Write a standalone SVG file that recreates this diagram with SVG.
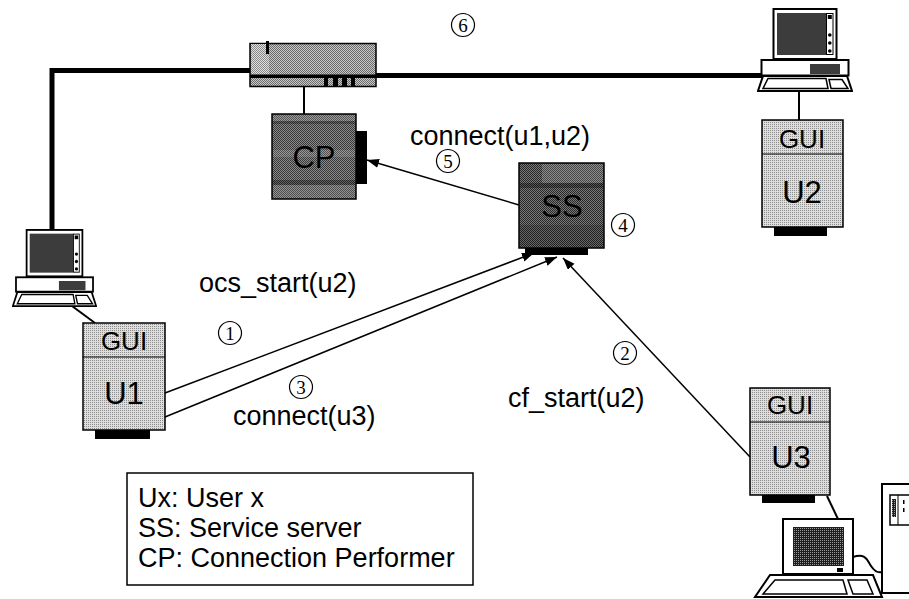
<svg xmlns="http://www.w3.org/2000/svg" width="909" height="599" viewBox="0 0 909 599">
  <style>
    .lbl{font-family:"Liberation Sans",Arial,sans-serif;font-size:27px;fill:#000}
    .big{font-family:"Liberation Sans",Arial,sans-serif;font-size:31px;text-anchor:middle;fill:#000}
    .gui{font-family:"Liberation Sans",Arial,sans-serif;font-size:26px;text-anchor:middle;fill:#000}
    .num circle{fill:none;stroke:#000;stroke-width:1.2}
    .num text{font-family:"Liberation Serif","Times New Roman",serif;font-size:19px;text-anchor:middle;fill:#000}
    .arrow{stroke:#000;stroke-width:1.5;fill:none;marker-end:url(#ah)}
    .net{stroke:#000;stroke-width:5;fill:none}
    .link{stroke:#000;stroke-width:2;fill:none}
    .pcline{stroke:#000;fill:#fff}
  </style>
  <defs>
    <marker id="ah" markerUnits="userSpaceOnUse" markerWidth="13" markerHeight="10" refX="12" refY="4.5" orient="auto">
      <path d="M0,0 L12,4.5 L0,9 Z" fill="#000"/>
    </marker>
    <!-- halftone fills -->
    <pattern id="pLight" width="2" height="2" patternUnits="userSpaceOnUse">
      <rect width="2" height="2" fill="#dedede"/><rect width="1" height="1" fill="#8c8c8c"/>
    </pattern>
    <pattern id="pHub" width="2" height="2" patternUnits="userSpaceOnUse">
      <rect width="2" height="2" fill="#c8c8c8"/><rect width="1" height="1" fill="#6a6a6a"/><rect x="1" y="1" width="1" height="1" fill="#6a6a6a"/>
    </pattern>
    <pattern id="pHubL" width="2" height="2" patternUnits="userSpaceOnUse">
      <rect width="2" height="2" fill="#e0e0e0"/><rect width="1" height="1" fill="#888"/><rect x="1" y="1" width="1" height="1" fill="#888"/>
    </pattern>
    <pattern id="pCP" width="2" height="2" patternUnits="userSpaceOnUse">
      <rect width="2" height="2" fill="#8a8a8a"/><rect width="1" height="1" fill="#383838"/><rect x="1" y="1" width="1" height="1" fill="#383838"/>
    </pattern>
    <pattern id="pSS" width="2" height="2" patternUnits="userSpaceOnUse">
      <rect width="2" height="2" fill="#7a7a7a"/><rect width="1" height="1" fill="#262626"/><rect x="1" y="1" width="1" height="1" fill="#262626"/>
    </pattern>
    <pattern id="pScr" width="2" height="2" patternUnits="userSpaceOnUse">
      <rect width="2" height="2" fill="#1e1e1e"/><rect width="1" height="1" fill="#9a9a9a"/>
    </pattern>
    <!-- desktop computer: monitor, system unit and keyboard -->
    <symbol id="desktop" viewBox="0 0 96 84" preserveAspectRatio="none">
      <rect class="pcline" x="16.5" y="1" width="63" height="50" stroke-width="2"/>
      <rect x="20" y="5" width="49" height="42" fill="#3c3c3c"/>
      <rect x="69.5" y="5.5" width="6.5" height="41" fill="#fff" stroke="#000" stroke-width="1"/>
      <rect x="70.8" y="7" width="4" height="4" fill="#000"/>
      <circle cx="72.8" cy="27" r="1.8" fill="#000"/>
      <circle cx="72.8" cy="35" r="1.8" fill="#000"/>
      <circle cx="72.8" cy="43" r="1.8" fill="#000"/>
      <rect class="pcline" x="4.5" y="52" width="87" height="15.5" stroke-width="2"/>
      <rect x="53" y="56" width="30" height="10" fill="#3c3c3c"/>
      <polygon class="pcline" points="6,68 90,68 95,83 1,83" stroke-width="2"/>
      <polygon class="pcline" points="11,70.5 69,70.5 71,80.5 6,80.5" stroke-width="1.5"/>
      <polygon class="pcline" points="72,71.5 85,71.5 91,80.5 74,80.5" stroke-width="1.5"/>
    </symbol>
  </defs>

  <rect width="909" height="599" fill="#fff"/>

  <!-- network cabling and links between devices -->
  <g id="connectors">
    <polyline class="net" points="52,231 52,70.5 250,70.5"/>
    <line class="net" x1="376" y1="75.5" x2="762" y2="75.5"/>
    <line class="link" x1="304" y1="87" x2="304" y2="114"/>
    <line class="link" x1="799" y1="91" x2="799" y2="120"/>
    <line class="link" x1="72" y1="306" x2="95" y2="323"/>
    <line class="link" x1="827" y1="496" x2="838" y2="519"/>
    <path class="link" d="M853,557 C866,553 867,560 871,566 C875,572 878,573 882,572"/>
    <line class="arrow" x1="519" y1="205" x2="367" y2="160"/>
    <line class="arrow" x1="165" y1="393" x2="534" y2="253"/>
    <line class="arrow" x1="165" y1="417" x2="557" y2="257"/>
    <line class="arrow" x1="750" y1="457" x2="563" y2="258"/>
  </g>

  <!-- hub -->
  <g id="hub">
    <rect x="250" y="43.5" width="126" height="43" fill="url(#pHub)" stroke="#000" stroke-width="1.5"/>
    <rect x="251" y="44" width="18" height="31" fill="url(#pHubL)"/>
    <rect x="250" y="74.5" width="126" height="3.5" fill="#000"/>
    <rect x="266" y="41" width="3" height="13" fill="#000"/>
    <rect x="324" y="78" width="4" height="8" fill="#000"/>
    <rect x="333" y="78" width="5" height="8" fill="#000"/>
    <rect x="342" y="78" width="5" height="8" fill="#000"/>
    <rect x="351" y="78" width="4" height="8" fill="#000"/>
  </g>

  <!-- connection performer -->
  <g id="cp">
    <rect x="272" y="114" width="84" height="85" fill="url(#pCP)" stroke="#000" stroke-width="1.5"/>
    <rect x="273" y="115" width="82" height="6" fill="#fff" opacity="0.15"/>
    <rect x="273" y="121" width="82" height="3" fill="#000" opacity="0.25"/>
    <rect x="273" y="150" width="82" height="7" fill="#fff" opacity="0.12"/>
    <rect x="273" y="180" width="82" height="5" fill="#000" opacity="0.3"/>
    <rect x="273" y="185" width="82" height="13" fill="#fff" opacity="0.1"/>
    <rect x="356" y="131" width="11" height="53" fill="#000"/>
    <text class="big" x="314" y="168" font-size="30">CP</text>
  </g>

  <!-- service server -->
  <g id="ss">
    <rect x="519" y="163" width="85" height="85" fill="url(#pSS)" stroke="#000" stroke-width="1.5"/>
    <rect x="542" y="164" width="61" height="19" fill="#fff" opacity="0.15"/>
    <rect x="520" y="183" width="83" height="5" fill="#000" opacity="0.3"/>
    <rect x="520" y="225" width="83" height="22" fill="#000" opacity="0.15"/>
    <rect x="525" y="248" width="63" height="7" fill="#000"/>
    <text class="big" x="562" y="217">SS</text>
  </g>

  <!-- user 1 -->
  <g id="u1">
    <rect x="83" y="323" width="82" height="107" fill="url(#pLight)" stroke="#000" stroke-width="1.5"/>
    <line x1="83" y1="357" x2="165" y2="357" stroke="#000" stroke-width="1.2"/>
    <rect x="95" y="430" width="55" height="9" fill="#000"/>
    <text class="gui" x="124" y="350">GUI</text>
    <text class="big" x="124" y="404">U1</text>
  </g>

  <!-- user 2 -->
  <g id="u2">
    <rect x="762" y="120" width="81" height="107" fill="url(#pLight)" stroke="#000" stroke-width="1.5"/>
    <line x1="762" y1="154" x2="843" y2="154" stroke="#000" stroke-width="1.2"/>
    <rect x="774" y="227" width="53" height="9" fill="#000"/>
    <text class="gui" x="802" y="148">GUI</text>
    <text class="big" x="802" y="203">U2</text>
  </g>

  <!-- user 3 -->
  <g id="u3">
    <rect x="750" y="388" width="80" height="107" fill="url(#pLight)" stroke="#000" stroke-width="1.5"/>
    <line x1="750" y1="422" x2="830" y2="422" stroke="#000" stroke-width="1.2"/>
    <rect x="762" y="495" width="53" height="8" fill="#000"/>
    <text class="gui" x="790" y="414">GUI</text>
    <text class="big" x="791" y="468">U3</text>
  </g>

  <!-- workstations -->
  <g id="pc1">
    <use href="#desktop" x="12" y="229" width="85" height="78"/>
  </g>
  <g id="pc2">
    <use href="#desktop" x="757" y="8" width="96" height="84"/>
  </g>
  <g id="pc3">
    <rect class="pcline" x="783" y="519" width="70" height="55" stroke-width="2"/>
    <rect x="793" y="527" width="51" height="39" fill="url(#pScr)"/>
    <rect x="837" y="568" width="6" height="4" fill="#000"/>
    <polygon class="pcline" points="770,575 873,575 882,597 755,597" stroke-width="2"/>
    <polygon class="pcline" points="775,580 843,580 847,594 763,594" stroke-width="1.5"/>
    <polygon class="pcline" points="848,580 867,580 873,594 853,594" stroke-width="1.5"/>
    <rect class="pcline" x="882" y="484" width="32" height="109" stroke-width="2"/>
    <rect class="pcline" x="890" y="495" width="20" height="30" stroke-width="1.5"/>
    <line x1="898" y1="495" x2="898" y2="525" stroke="#000" stroke-width="1"/>
    <rect x="892" y="499" width="4" height="18" fill="url(#pScr)"/>
    <rect x="903" y="500" width="1.5" height="4" fill="#000"/>
    <rect x="903" y="508" width="1.5" height="4" fill="#000"/>
  </g>

  <!-- message labels -->
  <g id="labels">
    <text class="lbl" x="410" y="145">connect(u1,u2)</text>
    <text class="lbl" x="199" y="292">ocs_start(u2)</text>
    <text class="lbl" x="233" y="425">connect(u3)</text>
    <text class="lbl" x="508" y="407">cf_start(u2)</text>
  </g>

  <!-- step numbers -->
  <g id="steps">
    <g class="num" transform="translate(230,333)"><circle r="11.5"/><text y="6.5">1</text></g>
    <g class="num" transform="translate(625,353)"><circle r="11.5"/><text y="6.5">2</text></g>
    <g class="num" transform="translate(301,387)"><circle r="11.5"/><text y="6.5">3</text></g>
    <g class="num" transform="translate(623,225)"><circle r="11.5"/><text y="6.5">4</text></g>
    <g class="num" transform="translate(448,161)"><circle r="11.5"/><text y="6.5">5</text></g>
    <g class="num" transform="translate(463,25)"><circle r="11.5"/><text y="6.5">6</text></g>
  </g>

  <!-- legend -->
  <g id="legend">
    <rect x="127" y="473" width="346" height="112" fill="#fff" stroke="#000" stroke-width="1.5"/>
    <text class="lbl" x="138" y="507">Ux: User x</text>
    <text class="lbl" x="138" y="537">SS: Service server</text>
    <text class="lbl" x="138" y="567">CP: Connection Performer</text>
  </g>
</svg>
